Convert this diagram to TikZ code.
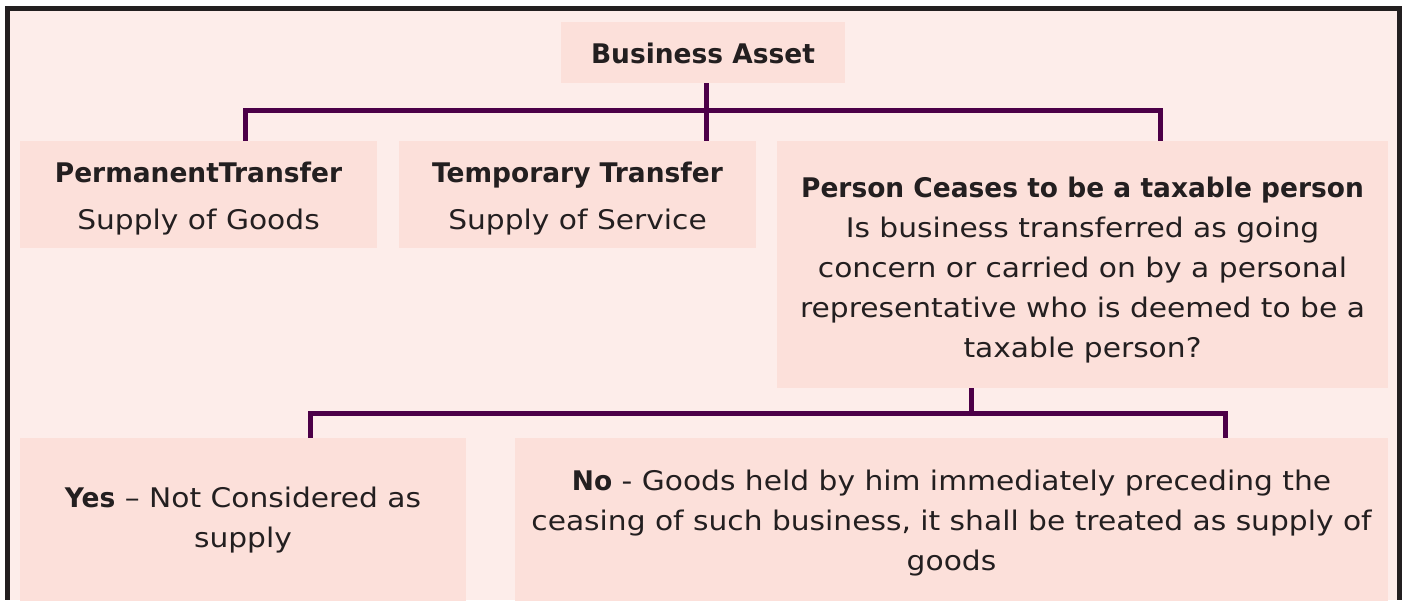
\documentclass[tikz,border=0pt]{standalone}
\usepackage{fontspec}
\setmainfont{DejaVu Sans}[UprightFeatures={FakeStretch=1.1},BoldFeatures={FakeStretch=0.98}]
\definecolor{framec}{RGB}{35,31,32}
\definecolor{bgc}{RGB}{253,237,234}
\definecolor{boxc}{RGB}{252,224,218}
\definecolor{connc}{RGB}{76,0,72}
\definecolor{txt}{RGB}{35,31,32}
\newcommand{\lowstrut}[1]{\rule{0pt}{#1pt}}
\begin{document}
\begin{tikzpicture}[x=1pt,y=-1pt,
  box/.style={fill=boxc, draw=none, inner sep=0pt, text=txt, align=center,
    font=\fontsize{27}{40}\selectfont},
  wide/.style={font=\fontsize{27}{47}\selectfont},
  conn/.style={draw=connc, line width=5pt, line join=miter}]
\useasboundingbox (0,0) rectangle (1405,600);
\fill[framec] (5,6) rectangle (1402,600);
\fill[bgc] (10,11) rectangle (1397,600);

\node[box, minimum width=284, minimum height=61] (ba) at (703,52.5) {\lowstrut{22}\textbf{Business Asset}};
\node[box, wide, minimum width=357, minimum height=107] (perm) at (198.5,194.5)
  {\lowstrut{28}\textbf{PermanentTransfer}\\Supply of Goods};
\node[box, wide, minimum width=357, minimum height=107] (tmp) at (577.5,194.5)
  {\lowstrut{28}\textbf{Temporary Transfer}\\Supply of Service};
\node[box, minimum width=611, minimum height=247] (pers) at (1082.5,264.5)
  {\lowstrut{32}\textbf{Person Ceases to be a taxable person}\\Is business transferred as going\\concern or carried on by a personal\\representative who is deemed to be a\\taxable person?};
\node[box, minimum width=446, minimum height=164] (yes) at (243,520)
  {\textbf{Yes} – Not Considered as\\supply};
\node[box, minimum width=873, minimum height=164] (no) at (951.5,520)
  {\lowstrut{26}\textbf{No} - Goods held by him immediately preceding the\\ceasing of such business, it shall be treated as supply of\\goods};

\coordinate (t0) at (706,110);
\coordinate (t1) at (245,110);
\coordinate (t2) at (1160,110);
\coordinate (b0) at (971,413);
\coordinate (b1) at (310,413);
\coordinate (b2) at (1225,413);

\draw[conn] (t0 |- ba.south) -- (t0 |- tmp.north);
\draw[conn] (t1 |- perm.north) -- (t1) -- (t2) -- (t2 |- pers.north);
\draw[conn] (b0 |- pers.south) -- (b0);
\draw[conn] (b1 |- yes.north) -- (b1) -- (b2) -- (b2 |- no.north);
\end{tikzpicture}
\end{document}
